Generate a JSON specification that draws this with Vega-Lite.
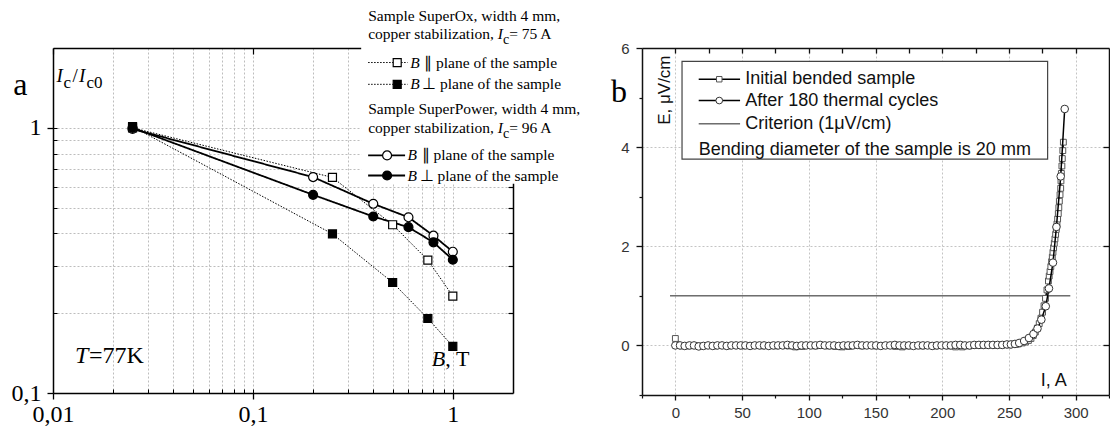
{
  "$schema": "https://vega.github.io/schema/vega-lite/v6.json",
  "background": "white",
  "padding": {"left": 11, "top": 8, "right": 0, "bottom": 0},
  "config": {"view": {"stroke": null}},
  "datasets": {
    "panelA": [
      {"B": 0.025, "ratio": 1.0, "sample": "SuperOx", "dir": "par", "series": "SuperOx par"},
      {"B": 0.25, "ratio": 0.65, "sample": "SuperOx", "dir": "par", "series": "SuperOx par"},
      {"B": 0.5, "ratio": 0.431, "sample": "SuperOx", "dir": "par", "series": "SuperOx par"},
      {"B": 0.75, "ratio": 0.317, "sample": "SuperOx", "dir": "par", "series": "SuperOx par"},
      {"B": 1.0, "ratio": 0.232, "sample": "SuperOx", "dir": "par", "series": "SuperOx par"},
      {"B": 0.025, "ratio": 1.01, "sample": "SuperOx", "dir": "perp", "series": "SuperOx perp"},
      {"B": 0.25, "ratio": 0.398, "sample": "SuperOx", "dir": "perp", "series": "SuperOx perp"},
      {"B": 0.5, "ratio": 0.261, "sample": "SuperOx", "dir": "perp", "series": "SuperOx perp"},
      {"B": 0.75, "ratio": 0.191, "sample": "SuperOx", "dir": "perp", "series": "SuperOx perp"},
      {"B": 1.0, "ratio": 0.15, "sample": "SuperOx", "dir": "perp", "series": "SuperOx perp"},
      {"B": 0.025, "ratio": 0.99, "sample": "SuperPower", "dir": "par", "series": "SuperPower par"},
      {"B": 0.2, "ratio": 0.652, "sample": "SuperPower", "dir": "par", "series": "SuperPower par"},
      {"B": 0.4, "ratio": 0.517, "sample": "SuperPower", "dir": "par", "series": "SuperPower par"},
      {"B": 0.6, "ratio": 0.46, "sample": "SuperPower", "dir": "par", "series": "SuperPower par"},
      {"B": 0.8, "ratio": 0.392, "sample": "SuperPower", "dir": "par", "series": "SuperPower par"},
      {"B": 1.0, "ratio": 0.341, "sample": "SuperPower", "dir": "par", "series": "SuperPower par"},
      {"B": 0.025, "ratio": 1.0, "sample": "SuperPower", "dir": "perp", "series": "SuperPower perp"},
      {"B": 0.2, "ratio": 0.559, "sample": "SuperPower", "dir": "perp", "series": "SuperPower perp"},
      {"B": 0.4, "ratio": 0.463, "sample": "SuperPower", "dir": "perp", "series": "SuperPower perp"},
      {"B": 0.6, "ratio": 0.422, "sample": "SuperPower", "dir": "perp", "series": "SuperPower perp"},
      {"B": 0.8, "ratio": 0.37, "sample": "SuperPower", "dir": "perp", "series": "SuperPower perp"},
      {"B": 1.0, "ratio": 0.318, "sample": "SuperPower", "dir": "perp", "series": "SuperPower perp"}
    ],
    "panelB": [
      {"I": 0, "E": 0.14, "series": "Initial"},
      {"I": 5, "E": -0.01, "series": "Initial"},
      {"I": 10, "E": -0.01, "series": "Initial"},
      {"I": 15, "E": 0, "series": "Initial"},
      {"I": 20, "E": -0.01, "series": "Initial"},
      {"I": 25, "E": 0, "series": "Initial"},
      {"I": 30, "E": -0.01, "series": "Initial"},
      {"I": 35, "E": 0, "series": "Initial"},
      {"I": 40, "E": -0.01, "series": "Initial"},
      {"I": 45, "E": 0, "series": "Initial"},
      {"I": 50, "E": -0.01, "series": "Initial"},
      {"I": 55, "E": 0, "series": "Initial"},
      {"I": 60, "E": 0, "series": "Initial"},
      {"I": 65, "E": -0.01, "series": "Initial"},
      {"I": 70, "E": 0, "series": "Initial"},
      {"I": 75, "E": -0.01, "series": "Initial"},
      {"I": 80, "E": 0, "series": "Initial"},
      {"I": 85, "E": -0.01, "series": "Initial"},
      {"I": 90, "E": -0.03, "series": "Initial"},
      {"I": 95, "E": -0.02, "series": "Initial"},
      {"I": 100, "E": 0, "series": "Initial"},
      {"I": 105, "E": -0.01, "series": "Initial"},
      {"I": 110, "E": 0, "series": "Initial"},
      {"I": 115, "E": -0.01, "series": "Initial"},
      {"I": 120, "E": -0.02, "series": "Initial"},
      {"I": 125, "E": -0.03, "series": "Initial"},
      {"I": 130, "E": -0.02, "series": "Initial"},
      {"I": 135, "E": 0, "series": "Initial"},
      {"I": 140, "E": -0.01, "series": "Initial"},
      {"I": 145, "E": 0, "series": "Initial"},
      {"I": 150, "E": -0.01, "series": "Initial"},
      {"I": 155, "E": 0, "series": "Initial"},
      {"I": 160, "E": 0, "series": "Initial"},
      {"I": 165, "E": -0.02, "series": "Initial"},
      {"I": 170, "E": -0.03, "series": "Initial"},
      {"I": 175, "E": -0.01, "series": "Initial"},
      {"I": 180, "E": 0, "series": "Initial"},
      {"I": 185, "E": -0.01, "series": "Initial"},
      {"I": 190, "E": 0, "series": "Initial"},
      {"I": 195, "E": -0.01, "series": "Initial"},
      {"I": 200, "E": 0, "series": "Initial"},
      {"I": 205, "E": -0.01, "series": "Initial"},
      {"I": 210, "E": -0.03, "series": "Initial"},
      {"I": 215, "E": -0.03, "series": "Initial"},
      {"I": 220, "E": -0.01, "series": "Initial"},
      {"I": 225, "E": 0, "series": "Initial"},
      {"I": 230, "E": 0, "series": "Initial"},
      {"I": 235, "E": 0.01, "series": "Initial"},
      {"I": 240, "E": 0, "series": "Initial"},
      {"I": 245, "E": 0.01, "series": "Initial"},
      {"I": 250, "E": 0.01, "series": "Initial"},
      {"I": 255, "E": 0.02, "series": "Initial"},
      {"I": 257, "E": 0.03, "series": "Initial"},
      {"I": 260, "E": 0.05, "series": "Initial"},
      {"I": 262.5, "E": 0.07, "series": "Initial"},
      {"I": 264.6, "E": 0.1, "series": "Initial"},
      {"I": 266.5, "E": 0.14, "series": "Initial"},
      {"I": 268.2, "E": 0.2, "series": "Initial"},
      {"I": 269.8, "E": 0.27, "series": "Initial"},
      {"I": 271.3, "E": 0.35, "series": "Initial"},
      {"I": 272.7, "E": 0.44, "series": "Initial"},
      {"I": 274, "E": 0.55, "series": "Initial"},
      {"I": 275.2, "E": 0.67, "series": "Initial"},
      {"I": 276.3, "E": 0.8, "series": "Initial"},
      {"I": 277.4, "E": 0.95, "series": "Initial"},
      {"I": 278.5, "E": 1.12, "series": "Initial"},
      {"I": 279.6, "E": 1.3, "series": "Initial"},
      {"I": 280.2, "E": 1.4, "series": "Initial"},
      {"I": 280.8, "E": 1.49, "series": "Initial"},
      {"I": 281.4, "E": 1.59, "series": "Initial"},
      {"I": 282, "E": 1.69, "series": "Initial"},
      {"I": 282.5, "E": 1.78, "series": "Initial"},
      {"I": 283, "E": 1.88, "series": "Initial"},
      {"I": 283.5, "E": 1.97, "series": "Initial"},
      {"I": 284, "E": 2.06, "series": "Initial"},
      {"I": 284.5, "E": 2.15, "series": "Initial"},
      {"I": 285, "E": 2.24, "series": "Initial"},
      {"I": 285.5, "E": 2.34, "series": "Initial"},
      {"I": 286, "E": 2.45, "series": "Initial"},
      {"I": 286.5, "E": 2.55, "series": "Initial"},
      {"I": 287, "E": 2.66, "series": "Initial"},
      {"I": 287.4, "E": 2.78, "series": "Initial"},
      {"I": 287.8, "E": 2.91, "series": "Initial"},
      {"I": 288.3, "E": 3.04, "series": "Initial"},
      {"I": 288.8, "E": 3.17, "series": "Initial"},
      {"I": 289, "E": 3.32, "series": "Initial"},
      {"I": 289.3, "E": 3.47, "series": "Initial"},
      {"I": 289.7, "E": 3.62, "series": "Initial"},
      {"I": 290, "E": 3.77, "series": "Initial"},
      {"I": 290.4, "E": 3.93, "series": "Initial"},
      {"I": 290.8, "E": 4.1, "series": "Initial"},
      {"I": 0, "E": 0, "series": "After"},
      {"I": 3.5, "E": 0, "series": "After"},
      {"I": 7, "E": -0.01, "series": "After"},
      {"I": 10.5, "E": 0, "series": "After"},
      {"I": 14, "E": 0, "series": "After"},
      {"I": 17.5, "E": -0.02, "series": "After"},
      {"I": 21, "E": -0.01, "series": "After"},
      {"I": 24.5, "E": 0, "series": "After"},
      {"I": 28, "E": -0.01, "series": "After"},
      {"I": 31.5, "E": 0, "series": "After"},
      {"I": 35, "E": 0, "series": "After"},
      {"I": 38.5, "E": -0.01, "series": "After"},
      {"I": 42, "E": 0, "series": "After"},
      {"I": 45.5, "E": 0, "series": "After"},
      {"I": 49, "E": 0, "series": "After"},
      {"I": 52.5, "E": 0, "series": "After"},
      {"I": 56, "E": -0.01, "series": "After"},
      {"I": 59.5, "E": 0, "series": "After"},
      {"I": 63, "E": 0, "series": "After"},
      {"I": 66.5, "E": 0, "series": "After"},
      {"I": 70, "E": -0.01, "series": "After"},
      {"I": 73.5, "E": 0, "series": "After"},
      {"I": 77, "E": 0, "series": "After"},
      {"I": 80.5, "E": 0, "series": "After"},
      {"I": 84, "E": 0.01, "series": "After"},
      {"I": 87.5, "E": 0, "series": "After"},
      {"I": 91, "E": -0.01, "series": "After"},
      {"I": 94.5, "E": 0, "series": "After"},
      {"I": 98, "E": 0, "series": "After"},
      {"I": 101.5, "E": 0, "series": "After"},
      {"I": 105, "E": 0, "series": "After"},
      {"I": 108.5, "E": 0.01, "series": "After"},
      {"I": 112, "E": 0, "series": "After"},
      {"I": 115.5, "E": 0, "series": "After"},
      {"I": 119, "E": 0, "series": "After"},
      {"I": 122.5, "E": -0.01, "series": "After"},
      {"I": 126, "E": 0, "series": "After"},
      {"I": 129.5, "E": 0, "series": "After"},
      {"I": 133, "E": 0, "series": "After"},
      {"I": 136.5, "E": 0.01, "series": "After"},
      {"I": 140, "E": 0, "series": "After"},
      {"I": 143.5, "E": 0, "series": "After"},
      {"I": 147, "E": 0, "series": "After"},
      {"I": 150.5, "E": 0, "series": "After"},
      {"I": 154, "E": -0.01, "series": "After"},
      {"I": 157.5, "E": 0, "series": "After"},
      {"I": 161, "E": 0, "series": "After"},
      {"I": 164.5, "E": 0.01, "series": "After"},
      {"I": 168, "E": 0, "series": "After"},
      {"I": 171.5, "E": 0, "series": "After"},
      {"I": 175, "E": 0, "series": "After"},
      {"I": 178.5, "E": -0.01, "series": "After"},
      {"I": 182, "E": 0, "series": "After"},
      {"I": 185.5, "E": 0, "series": "After"},
      {"I": 189, "E": 0, "series": "After"},
      {"I": 192.5, "E": -0.01, "series": "After"},
      {"I": 196, "E": 0, "series": "After"},
      {"I": 199.5, "E": 0, "series": "After"},
      {"I": 203, "E": 0, "series": "After"},
      {"I": 206.5, "E": 0, "series": "After"},
      {"I": 210, "E": 0.01, "series": "After"},
      {"I": 213.5, "E": 0.01, "series": "After"},
      {"I": 217, "E": 0, "series": "After"},
      {"I": 220.5, "E": 0, "series": "After"},
      {"I": 224, "E": 0.01, "series": "After"},
      {"I": 227.5, "E": 0.01, "series": "After"},
      {"I": 231, "E": 0.01, "series": "After"},
      {"I": 234.5, "E": 0.01, "series": "After"},
      {"I": 238, "E": 0.01, "series": "After"},
      {"I": 241.5, "E": 0.01, "series": "After"},
      {"I": 245, "E": 0.01, "series": "After"},
      {"I": 248.5, "E": 0.02, "series": "After"},
      {"I": 251.5, "E": 0.02, "series": "After"},
      {"I": 254.5, "E": 0.03, "series": "After"},
      {"I": 257.7, "E": 0.05, "series": "After"},
      {"I": 261.4, "E": 0.09, "series": "After"},
      {"I": 265, "E": 0.15, "series": "After"},
      {"I": 268.4, "E": 0.23, "series": "After"},
      {"I": 271.4, "E": 0.34, "series": "After"},
      {"I": 274.3, "E": 0.52, "series": "After"},
      {"I": 277.6, "E": 0.79, "series": "After"},
      {"I": 280, "E": 1.15, "series": "After"},
      {"I": 283, "E": 1.67, "series": "After"},
      {"I": 285.6, "E": 2.39, "series": "After"},
      {"I": 288.8, "E": 3.41, "series": "After"},
      {"I": 291.8, "E": 4.77, "series": "After"}
    ]
  },
  "bounds": "flush",
  "spacing": 129,
  "hconcat": [
    {
      "width": 460,
      "height": 345,
      "data": {"name": "panelA"},
      "resolve": {"axis": {"x": "independent", "y": "independent"}},
      "layer": [
        {
          "data": {"values": [{}]},
          "mark": {"type": "rect", "fill": "white"},
          "encoding": {
            "x": {"datum": 0.348, "type": "quantitative", "scale": {"type": "log", "domain": [0.01, 2], "nice": false},
              "axis": {"orient": "top", "values": [0.01, 0.1, 1], "labels": false, "tickSize": -6, "tickColor": "black", "tickWidth": 1.2, "domainColor": "black", "domainWidth": 1.5, "grid": false, "title": null}},
            "x2": {"datum": 2.3},
            "y": {"datum": 0.615, "type": "quantitative", "scale": {"type": "log", "domain": [0.1, 2], "nice": false},
              "axis": {"orient": "right", "values": [0.2, 0.3, 0.4, 0.5, 0.6, 0.7, 0.8, 0.9, 1], "labels": false, "tickSize": -5, "tickColor": "black", "tickWidth": 1.2, "domainColor": "black", "domainWidth": 1.5, "grid": false, "title": null}},
            "y2": {"datum": 2.3}
          }
        },
        {
          "mark": {"type": "line", "color": "black"},
          "encoding": {
            "x": {"field": "B", "type": "quantitative",
              "axis": {"orient": "bottom", "values": [0.01, 0.1, 1], "format": "~g", "labelExpr": "replace(datum.label, '.', ',')", "tickSize": 6, "tickColor": "black", "tickWidth": 1.3, "domainColor": "black", "domainWidth": 1.5, "labelFont": "Liberation Serif", "labelFontSize": 24, "labelColor": "black", "labelPadding": 3, "labelFlush": false, "labelOverlap": false, "grid": false, "title": null}},
            "y": {"field": "ratio", "type": "quantitative",
              "axis": {"orient": "left", "values": [0.1, 1], "format": "~g", "labelExpr": "replace(datum.label, '.', ',')", "tickSize": 6, "tickColor": "black", "tickWidth": 1.3, "domainColor": "black", "domainWidth": 1.5, "labelFont": "Liberation Serif", "labelFontSize": 24, "labelColor": "black", "labelPadding": 6, "labelFlush": false, "labelOverlap": false, "grid": false, "title": null}},
            "detail": {"field": "series", "type": "nominal"},
            "strokeDash": {"field": "sample", "type": "nominal", "scale": {"domain": ["SuperOx", "SuperPower"], "range": [[1.5, 1.5], [1, 0]]}, "legend": null},
            "strokeWidth": {"field": "sample", "type": "nominal", "scale": {"domain": ["SuperOx", "SuperPower"], "range": [1, 1.8]}, "legend": null}
          }
        },
        {
          "mark": {"type": "point", "filled": true, "stroke": "black", "strokeWidth": 1.2, "opacity": 1},
          "encoding": {
            "x": {"field": "B", "type": "quantitative",
              "axis": {"orient": "bottom", "values": [0.02, 0.03, 0.04, 0.05, 0.06, 0.07, 0.08, 0.09, 0.1, 0.2, 0.3, 0.4, 0.5, 0.6, 0.7, 0.8, 0.9, 1], "labels": false, "domain": false, "tickSize": -4, "tickColor": "black", "tickWidth": 1, "grid": true, "gridColor": "#bdbdbd", "gridDash": [2, 2], "gridWidth": 1, "title": null}},
            "y": {"field": "ratio", "type": "quantitative",
              "axis": {"orient": "left", "values": [0.2, 0.3, 0.4, 0.5, 0.6, 0.7, 0.8, 0.9, 1], "labels": false, "domain": false, "tickSize": -4, "tickColor": "black", "tickWidth": 1, "grid": true, "gridColor": "#bdbdbd", "gridDash": [2, 2], "gridWidth": 1, "title": null}},
            "fill": {"field": "dir", "type": "nominal", "scale": {"domain": ["par", "perp"], "range": ["white", "black"]}, "legend": null},
            "shape": {"field": "sample", "type": "nominal", "scale": {"domain": ["SuperOx", "SuperPower"], "range": ["square", "circle"]}, "legend": null},
            "size": {"field": "sample", "type": "nominal", "scale": {"domain": ["SuperOx", "SuperPower"], "range": [64, 80]}, "legend": null}
          }
        },
        {"data": {"values": [{}]}, "mark": {"type": "text", "text": "a", "font": "Liberation Serif", "fontSize": 32, "align": "center", "baseline": "alphabetic", "color": "black"},
          "encoding": {"x": {"datum": 0.00686, "type": "quantitative", "axis": null}, "y": {"datum": 1.325, "type": "quantitative", "axis": null}}},
        {"data": {"values": [{}]}, "mark": {"type": "text", "text": "I", "font": "Liberation Serif", "fontSize": 19, "fontStyle": "italic", "align": "left", "baseline": "alphabetic", "dx": 3.5, "color": "black"},
          "encoding": {"x": {"datum": 0.01, "type": "quantitative", "axis": null}, "y": {"datum": 1.484, "type": "quantitative", "axis": null}}},
        {"data": {"values": [{}]}, "mark": {"type": "text", "text": "c", "font": "Liberation Serif", "fontSize": 17, "align": "left", "baseline": "alphabetic", "dx": 10.5, "dy": 6, "color": "black"},
          "encoding": {"x": {"datum": 0.01, "type": "quantitative", "axis": null}, "y": {"datum": 1.484, "type": "quantitative", "axis": null}}},
        {"data": {"values": [{}]}, "mark": {"type": "text", "text": "/", "font": "Liberation Serif", "fontSize": 19, "align": "left", "baseline": "alphabetic", "dx": 19.5, "color": "black"},
          "encoding": {"x": {"datum": 0.01, "type": "quantitative", "axis": null}, "y": {"datum": 1.484, "type": "quantitative", "axis": null}}},
        {"data": {"values": [{}]}, "mark": {"type": "text", "text": "I", "font": "Liberation Serif", "fontSize": 19, "fontStyle": "italic", "align": "left", "baseline": "alphabetic", "dx": 26, "color": "black"},
          "encoding": {"x": {"datum": 0.01, "type": "quantitative", "axis": null}, "y": {"datum": 1.484, "type": "quantitative", "axis": null}}},
        {"data": {"values": [{}]}, "mark": {"type": "text", "text": "c0", "font": "Liberation Serif", "fontSize": 17, "align": "left", "baseline": "alphabetic", "dx": 33.5, "dy": 6, "color": "black"},
          "encoding": {"x": {"datum": 0.01, "type": "quantitative", "axis": null}, "y": {"datum": 1.484, "type": "quantitative", "axis": null}}},
        {"data": {"values": [{}]}, "mark": {"type": "text", "text": "T", "font": "Liberation Serif", "fontSize": 24, "fontStyle": "italic", "align": "left", "baseline": "alphabetic", "dx": 22, "color": "black"},
          "encoding": {"x": {"datum": 0.01, "type": "quantitative", "axis": null}, "y": {"datum": 0.13, "type": "quantitative", "axis": null}}},
        {"data": {"values": [{}]}, "mark": {"type": "text", "text": "=77K", "font": "Liberation Serif", "fontSize": 24, "align": "left", "baseline": "alphabetic", "dx": 36, "color": "black"},
          "encoding": {"x": {"datum": 0.01, "type": "quantitative", "axis": null}, "y": {"datum": 0.13, "type": "quantitative", "axis": null}}},
        {"data": {"values": [{}]}, "mark": {"type": "text", "text": "B", "font": "Liberation Serif", "fontSize": 22, "fontStyle": "italic", "align": "left", "baseline": "alphabetic", "dx": -21, "color": "black"},
          "encoding": {"x": {"datum": 1, "type": "quantitative", "axis": null}, "y": {"datum": 0.126, "type": "quantitative", "axis": null}}},
        {"data": {"values": [{}]}, "mark": {"type": "text", "text": ", T", "font": "Liberation Serif", "fontSize": 22, "align": "left", "baseline": "alphabetic", "dx": -7.5, "color": "black"},
          "encoding": {"x": {"datum": 1, "type": "quantitative", "axis": null}, "y": {"datum": 0.126, "type": "quantitative", "axis": null}}},
        {"data": {"values": [{}]}, "mark": {"type": "text", "text": "Sample SuperOx, width 4 mm,", "font": "Liberation Serif", "fontSize": 15.5, "align": "left", "baseline": "alphabetic", "color": "black"},
          "encoding": {"x": {"datum": 0.377, "type": "quantitative", "axis": null}, "y": {"datum": 2.535, "type": "quantitative", "axis": null}}},
        {"data": {"values": [{}]}, "mark": {"type": "text", "text": "copper stabilization,", "font": "Liberation Serif", "fontSize": 15.5, "align": "left", "baseline": "alphabetic", "color": "black"},
          "encoding": {"x": {"datum": 0.377, "type": "quantitative", "axis": null}, "y": {"datum": 2.161, "type": "quantitative", "axis": null}}},
        {"data": {"values": [{}]}, "mark": {"type": "text", "text": "I", "font": "Liberation Serif", "fontSize": 15.5, "fontStyle": "italic", "align": "left", "baseline": "alphabetic", "dx": 129.5, "color": "black"},
          "encoding": {"x": {"datum": 0.377, "type": "quantitative", "axis": null}, "y": {"datum": 2.161, "type": "quantitative", "axis": null}}},
        {"data": {"values": [{}]}, "mark": {"type": "text", "text": "c", "font": "Liberation Serif", "fontSize": 14, "align": "left", "baseline": "alphabetic", "dx": 134.8, "dy": 5, "color": "black"},
          "encoding": {"x": {"datum": 0.377, "type": "quantitative", "axis": null}, "y": {"datum": 2.161, "type": "quantitative", "axis": null}}},
        {"data": {"values": [{}]}, "mark": {"type": "text", "text": "= 75 A", "font": "Liberation Serif", "fontSize": 15.5, "align": "left", "baseline": "alphabetic", "dx": 141, "color": "black"},
          "encoding": {"x": {"datum": 0.377, "type": "quantitative", "axis": null}, "y": {"datum": 2.161, "type": "quantitative", "axis": null}}},
        {"data": {"values": [{}]}, "mark": {"type": "rule", "color": "black", "strokeWidth": 1, "strokeDash": [1.5, 1.5]},
          "encoding": {"x": {"datum": 0.377, "type": "quantitative", "axis": null}, "x2": {"datum": 0.594}, "y": {"datum": 1.763, "type": "quantitative", "axis": null}}},
        {"data": {"values": [{}]}, "mark": {"type": "point", "shape": "square", "filled": true, "fill": "white", "stroke": "black", "strokeWidth": 1.2, "size": 64, "opacity": 1},
          "encoding": {"x": {"datum": 0.527, "type": "quantitative", "axis": null}, "y": {"datum": 1.763, "type": "quantitative", "axis": null}}},
        {"data": {"values": [{}]}, "mark": {"type": "text", "text": "B", "font": "Liberation Serif", "fontSize": 15.5, "fontStyle": "italic", "align": "left", "baseline": "middle", "color": "black"},
          "encoding": {"x": {"datum": 0.612, "type": "quantitative", "axis": null}, "y": {"datum": 1.763, "type": "quantitative", "axis": null}}},
        {"data": {"values": [{}]}, "mark": {"type": "text", "text": "∥  plane of the sample", "font": "Liberation Serif", "fontSize": 15.5, "align": "left", "baseline": "middle", "dx": 14, "color": "black"},
          "encoding": {"x": {"datum": 0.612, "type": "quantitative", "axis": null}, "y": {"datum": 1.763, "type": "quantitative", "axis": null}}},
        {"data": {"values": [{}]}, "mark": {"type": "rule", "color": "black", "strokeWidth": 1, "strokeDash": [1.5, 1.5]},
          "encoding": {"x": {"datum": 0.377, "type": "quantitative", "axis": null}, "x2": {"datum": 0.594}, "y": {"datum": 1.459, "type": "quantitative", "axis": null}}},
        {"data": {"values": [{}]}, "mark": {"type": "point", "shape": "square", "filled": true, "fill": "black", "stroke": "black", "strokeWidth": 1.2, "size": 64, "opacity": 1},
          "encoding": {"x": {"datum": 0.527, "type": "quantitative", "axis": null}, "y": {"datum": 1.459, "type": "quantitative", "axis": null}}},
        {"data": {"values": [{}]}, "mark": {"type": "text", "text": "B", "font": "Liberation Serif", "fontSize": 15.5, "fontStyle": "italic", "align": "left", "baseline": "middle", "color": "black"},
          "encoding": {"x": {"datum": 0.612, "type": "quantitative", "axis": null}, "y": {"datum": 1.459, "type": "quantitative", "axis": null}}},
        {"data": {"values": [{}]}, "mark": {"type": "text", "text": "⊥ plane of the sample", "font": "Liberation Serif", "fontSize": 15.5, "align": "left", "baseline": "middle", "dx": 12, "color": "black"},
          "encoding": {"x": {"datum": 0.612, "type": "quantitative", "axis": null}, "y": {"datum": 1.459, "type": "quantitative", "axis": null}}},
        {"data": {"values": [{}]}, "mark": {"type": "text", "text": "Sample SuperPower, width 4 mm,", "font": "Liberation Serif", "fontSize": 15.5, "align": "left", "baseline": "alphabetic", "color": "black"},
          "encoding": {"x": {"datum": 0.377, "type": "quantitative", "axis": null}, "y": {"datum": 1.123, "type": "quantitative", "axis": null}}},
        {"data": {"values": [{}]}, "mark": {"type": "text", "text": "copper stabilization,", "font": "Liberation Serif", "fontSize": 15.5, "align": "left", "baseline": "alphabetic", "color": "black"},
          "encoding": {"x": {"datum": 0.377, "type": "quantitative", "axis": null}, "y": {"datum": 0.96, "type": "quantitative", "axis": null}}},
        {"data": {"values": [{}]}, "mark": {"type": "text", "text": "I", "font": "Liberation Serif", "fontSize": 15.5, "fontStyle": "italic", "align": "left", "baseline": "alphabetic", "dx": 129.5, "color": "black"},
          "encoding": {"x": {"datum": 0.377, "type": "quantitative", "axis": null}, "y": {"datum": 0.96, "type": "quantitative", "axis": null}}},
        {"data": {"values": [{}]}, "mark": {"type": "text", "text": "c", "font": "Liberation Serif", "fontSize": 14, "align": "left", "baseline": "alphabetic", "dx": 134.8, "dy": 5, "color": "black"},
          "encoding": {"x": {"datum": 0.377, "type": "quantitative", "axis": null}, "y": {"datum": 0.96, "type": "quantitative", "axis": null}}},
        {"data": {"values": [{}]}, "mark": {"type": "text", "text": "= 96 A", "font": "Liberation Serif", "fontSize": 15.5, "align": "left", "baseline": "alphabetic", "dx": 141, "color": "black"},
          "encoding": {"x": {"datum": 0.377, "type": "quantitative", "axis": null}, "y": {"datum": 0.96, "type": "quantitative", "axis": null}}},
        {"data": {"values": [{}]}, "mark": {"type": "rule", "color": "black", "strokeWidth": 1.8},
          "encoding": {"x": {"datum": 0.377, "type": "quantitative", "axis": null}, "x2": {"datum": 0.577}, "y": {"datum": 0.787, "type": "quantitative", "axis": null}}},
        {"data": {"values": [{}]}, "mark": {"type": "point", "shape": "circle", "filled": true, "fill": "white", "stroke": "black", "strokeWidth": 1.2, "size": 80, "opacity": 1},
          "encoding": {"x": {"datum": 0.469, "type": "quantitative", "axis": null}, "y": {"datum": 0.787, "type": "quantitative", "axis": null}}},
        {"data": {"values": [{}]}, "mark": {"type": "text", "text": "B", "font": "Liberation Serif", "fontSize": 15.5, "fontStyle": "italic", "align": "left", "baseline": "middle", "color": "black"},
          "encoding": {"x": {"datum": 0.594, "type": "quantitative", "axis": null}, "y": {"datum": 0.787, "type": "quantitative", "axis": null}}},
        {"data": {"values": [{}]}, "mark": {"type": "text", "text": "∥  plane of the sample", "font": "Liberation Serif", "fontSize": 15.5, "align": "left", "baseline": "middle", "dx": 14, "color": "black"},
          "encoding": {"x": {"datum": 0.594, "type": "quantitative", "axis": null}, "y": {"datum": 0.787, "type": "quantitative", "axis": null}}},
        {"data": {"values": [{}]}, "mark": {"type": "rule", "color": "black", "strokeWidth": 1.8},
          "encoding": {"x": {"datum": 0.377, "type": "quantitative", "axis": null}, "x2": {"datum": 0.577}, "y": {"datum": 0.661, "type": "quantitative", "axis": null}}},
        {"data": {"values": [{}]}, "mark": {"type": "point", "shape": "circle", "filled": true, "fill": "black", "stroke": "black", "strokeWidth": 1.2, "size": 80, "opacity": 1},
          "encoding": {"x": {"datum": 0.469, "type": "quantitative", "axis": null}, "y": {"datum": 0.661, "type": "quantitative", "axis": null}}},
        {"data": {"values": [{}]}, "mark": {"type": "text", "text": "B", "font": "Liberation Serif", "fontSize": 15.5, "fontStyle": "italic", "align": "left", "baseline": "middle", "color": "black"},
          "encoding": {"x": {"datum": 0.594, "type": "quantitative", "axis": null}, "y": {"datum": 0.661, "type": "quantitative", "axis": null}}},
        {"data": {"values": [{}]}, "mark": {"type": "text", "text": "⊥ plane of the sample", "font": "Liberation Serif", "fontSize": 15.5, "align": "left", "baseline": "middle", "dx": 12, "color": "black"},
          "encoding": {"x": {"datum": 0.594, "type": "quantitative", "axis": null}, "y": {"datum": 0.661, "type": "quantitative", "axis": null}}}
      ]
    },
    {
      "width": 467,
      "height": 347,
      "data": {"name": "panelB"},
      "resolve": {"axis": {"x": "independent", "y": "independent"}},
      "layer": [
        {
          "data": {"values": [{}]},
          "mark": {"type": "rect", "fill": "white", "stroke": "#444444", "strokeWidth": 1.2},
          "encoding": {
            "x": {"datum": 5, "type": "quantitative", "scale": {"domain": [-25, 325], "nice": false, "zero": false},
              "axis": {"orient": "top", "values": [0, 25, 50, 75, 100, 125, 150, 175, 200, 225, 250, 275, 300], "labels": false, "tickSize": -5, "tickColor": "#111111", "tickWidth": 1.3, "domainColor": "#111111", "domainWidth": 1.5, "grid": false, "title": null}},
            "x2": {"datum": 279},
            "y": {"datum": 3.76, "type": "quantitative", "scale": {"domain": [-1, 6], "nice": false, "zero": false},
              "axis": {"orient": "right", "values": [0, 2, 4], "labels": false, "tickSize": -6, "tickColor": "#111111", "tickWidth": 1.3, "domainColor": "#111111", "domainWidth": 1.5, "grid": false, "title": null}},
            "y2": {"datum": 5.73}
          }
        },
        {
          "data": {"values": [{}]},
          "mark": {"type": "rule", "color": "#222222", "strokeWidth": 1},
          "encoding": {"x": {"datum": -4, "type": "quantitative", "axis": null}, "x2": {"datum": 296}, "y": {"datum": 1, "type": "quantitative", "axis": null}}
        },
        {
          "transform": [{"filter": "datum.series === 'Initial'"}],
          "mark": {"type": "line", "color": "black", "strokeWidth": 1.5},
          "encoding": {
            "x": {"field": "I", "type": "quantitative",
              "axis": {"orient": "bottom", "values": [0, 50, 100, 150, 200, 250, 300], "tickSize": 5, "tickColor": "#111111", "tickWidth": 1.3, "domainColor": "#111111", "domainWidth": 1.5, "labelFont": "Liberation Sans", "labelFontSize": 15, "labelColor": "#333333", "labelPadding": 5, "labelFlush": false, "grid": true, "gridColor": "#c4c4c4", "gridDash": [2, 2], "gridWidth": 1, "title": null}},
            "y": {"field": "E", "type": "quantitative",
              "axis": {"orient": "left", "values": [0, 2, 4, 6], "tickSize": 6, "tickColor": "#111111", "tickWidth": 1.3, "domainColor": "#111111", "domainWidth": 1.5, "labelFont": "Liberation Sans", "labelFontSize": 15, "labelColor": "#333333", "labelPadding": 7, "labelFlush": false, "grid": true, "gridColor": "#c4c4c4", "gridDash": [2, 2], "gridWidth": 1, "title": null}}
          }
        },
        {
          "transform": [{"filter": "datum.series === 'Initial'"}],
          "mark": {"type": "point", "shape": "square", "filled": true, "fill": "white", "stroke": "#555555", "strokeWidth": 1, "size": 34, "opacity": 1},
          "encoding": {
            "x": {"field": "I", "type": "quantitative",
              "axis": {"orient": "bottom", "values": [-25, 25, 75, 125, 175, 225, 275, 325], "labels": false, "domain": false, "tickSize": 3, "tickColor": "#111111", "tickWidth": 1.2, "grid": false, "title": null}},
            "y": {"field": "E", "type": "quantitative",
              "axis": {"orient": "left", "values": [-1, 1, 3, 5], "labels": false, "domain": false, "tickSize": 3, "tickColor": "#111111", "tickWidth": 1.2, "grid": false, "title": null}}
          }
        },
        {
          "transform": [{"filter": "datum.series === 'After'"}],
          "mark": {"type": "line", "color": "black", "strokeWidth": 1.5},
          "encoding": {
            "x": {"field": "I", "type": "quantitative", "axis": null},
            "y": {"field": "E", "type": "quantitative", "axis": null}
          }
        },
        {
          "transform": [{"filter": "datum.series === 'After'"}],
          "mark": {"type": "point", "shape": "circle", "filled": true, "fill": "white", "stroke": "#333333", "strokeWidth": 1, "size": 58, "opacity": 1},
          "encoding": {
            "x": {"field": "I", "type": "quantitative", "axis": null},
            "y": {"field": "E", "type": "quantitative", "axis": null}
          }
        },
        {"data": {"values": [{}]}, "mark": {"type": "rule", "color": "black", "strokeWidth": 1.5},
          "encoding": {"x": {"datum": 17.5, "type": "quantitative", "axis": null}, "x2": {"datum": 48.5}, "y": {"datum": 5.37, "type": "quantitative", "axis": null}}},
        {"data": {"values": [{}]}, "mark": {"type": "point", "shape": "square", "filled": true, "fill": "white", "stroke": "#555555", "strokeWidth": 1, "size": 30, "opacity": 1},
          "encoding": {"x": {"datum": 32.9, "type": "quantitative", "axis": null}, "y": {"datum": 5.37, "type": "quantitative", "axis": null}}},
        {"data": {"values": [{}]}, "mark": {"type": "rule", "color": "black", "strokeWidth": 1.5},
          "encoding": {"x": {"datum": 17.5, "type": "quantitative", "axis": null}, "x2": {"datum": 48.5}, "y": {"datum": 4.94, "type": "quantitative", "axis": null}}},
        {"data": {"values": [{}]}, "mark": {"type": "point", "shape": "circle", "filled": true, "fill": "white", "stroke": "#333333", "strokeWidth": 1, "size": 45, "opacity": 1},
          "encoding": {"x": {"datum": 32.9, "type": "quantitative", "axis": null}, "y": {"datum": 4.94, "type": "quantitative", "axis": null}}},
        {"data": {"values": [{}]}, "mark": {"type": "rule", "color": "#222222", "strokeWidth": 1},
          "encoding": {"x": {"datum": 17.5, "type": "quantitative", "axis": null}, "x2": {"datum": 48.5}, "y": {"datum": 4.47, "type": "quantitative", "axis": null}}},
        {"data": {"values": [{}]}, "mark": {"type": "text", "text": "Initial bended sample", "font": "Liberation Sans", "fontSize": 18, "align": "left", "baseline": "middle", "color": "#111111"},
          "encoding": {"x": {"datum": 52.3, "type": "quantitative", "axis": null}, "y": {"datum": 5.37, "type": "quantitative", "axis": null}}},
        {"data": {"values": [{}]}, "mark": {"type": "text", "text": "After 180 thermal cycles", "font": "Liberation Sans", "fontSize": 18, "align": "left", "baseline": "middle", "color": "#111111"},
          "encoding": {"x": {"datum": 52.3, "type": "quantitative", "axis": null}, "y": {"datum": 4.94, "type": "quantitative", "axis": null}}},
        {"data": {"values": [{}]}, "mark": {"type": "text", "text": "Criterion (1μV/cm)", "font": "Liberation Sans", "fontSize": 18, "align": "left", "baseline": "middle", "color": "#111111"},
          "encoding": {"x": {"datum": 52.3, "type": "quantitative", "axis": null}, "y": {"datum": 4.47, "type": "quantitative", "axis": null}}},
        {"data": {"values": [{}]}, "mark": {"type": "text", "text": "Bending diameter of the sample is 20 mm", "font": "Liberation Sans", "fontSize": 18, "align": "left", "baseline": "middle", "color": "#111111"},
          "encoding": {"x": {"datum": 17.5, "type": "quantitative", "axis": null}, "y": {"datum": 3.95, "type": "quantitative", "axis": null}}},
        {"data": {"values": [{}]}, "mark": {"type": "text", "text": "E, μV/cm", "font": "Liberation Sans", "fontSize": 17, "align": "center", "baseline": "middle", "angle": 270, "color": "#111111"},
          "encoding": {"x": {"datum": -8, "type": "quantitative", "axis": null}, "y": {"datum": 5.15, "type": "quantitative", "axis": null}}},
        {"data": {"values": [{}]}, "mark": {"type": "text", "text": "I, A", "font": "Liberation Sans", "fontSize": 18, "align": "center", "baseline": "middle", "color": "#111111"},
          "encoding": {"x": {"datum": 283.6, "type": "quantitative", "axis": null}, "y": {"datum": -0.72, "type": "quantitative", "axis": null}}},
        {"data": {"values": [{}]}, "mark": {"type": "text", "text": "b", "font": "Liberation Serif", "fontSize": 32, "align": "center", "baseline": "alphabetic", "color": "black"},
          "encoding": {"x": {"datum": -42.3, "type": "quantitative", "axis": null}, "y": {"datum": 4.91, "type": "quantitative", "axis": null}}}
      ]
    }
  ]
}
